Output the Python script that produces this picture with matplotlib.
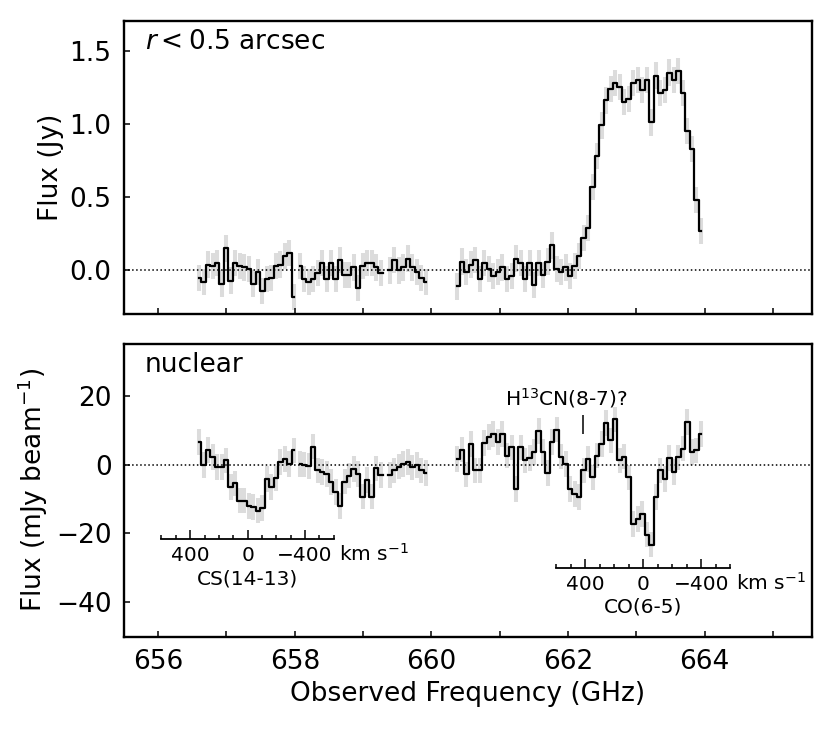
import numpy as np
import matplotlib
matplotlib.use("Agg")
import matplotlib.pyplot as plt
from matplotlib.ticker import MultipleLocator, FixedLocator

# ---------------- data ----------------
chan_width = 0.066                      # GHz
seg_starts = [656.60, 658.07, 660.38]   # first channel centre of each spectral segment (GHz)

nan = np.nan
top_flux_seg1 = [-0.05, -0.08, 0.04, 0.03, 0.05, -0.09, 0.15, -0.07, 0.05, 0.03, 0.02,
                 0.01, -0.09, -0.01, -0.14, -0.06, -0.05, 0.03, 0.04, 0.10, 0.12, -0.18]
top_flux_seg2 = [0.03, -0.06, -0.08, -0.06, -0.02, 0.05, -0.06, 0.05, -0.06, 0.07, -0.03,
                 -0.03, 0.02, -0.12, 0.03, 0.05, 0.05, 0.02, -0.02, nan, 0.00, 0.07, 0.00,
                 0.02, 0.08, 0.02, -0.01, -0.05, -0.08]
top_flux_seg3 = [-0.11, 0.06, -0.01, 0.04, 0.07, -0.06, 0.05, 0.01, -0.04, -0.01, 0.02,
                 -0.06, -0.04, 0.08, 0.05, -0.06, 0.05, -0.10, 0.05, -0.03, 0.06, 0.17,
                 0.01, -0.01, 0.02, -0.04, 0.03, 0.10, 0.22, 0.29, 0.57, 0.78, 0.99, 1.16,
                 1.24, 1.28, 1.25, 1.15, 1.17, 1.28, 1.30, 1.23, 1.30, 1.01, 1.33, 1.21,
                 1.23, 1.35, 1.30, 1.36, 1.21, 0.95, 0.83, 0.48, 0.27]
top_err = 0.09

nuc_flux_seg1 = [6.6, -0.2, 4.2, 2.2, -0.7, -0.7, 1.2, -6.6, -5.5, -10.5, -10.5, -12.0,
                 -12.3, -13.4, -12.6, -4.2, -6.6, -4.0, 0.7, 1.6, 0.2, 4.1]
nuc_flux_seg2 = [0.2, 0.0, -0.5, 5.2, -1.7, -2.2, -2.7, -5.1, -8.0, -12.0, -5.0, -3.2,
                 -1.3, -2.7, -9.3, -4.5, -9.3, -1.1, -3.0, nan, -3.0, -1.7, -0.6, 0.2,
                 0.7, -0.8, -0.1, -1.7, -2.5]
nuc_flux_seg3 = [1.6, 4.3, -2.9, 6.0, -1.7, -1.7, 6.2, 8.0, 8.9, 6.5, 8.9, 2.6, 5.0,
                 -7.1, 5.0, 1.2, 1.9, 3.6, 9.7, 3.6, -2.5, 6.5, 10.1, 2.3, 0.2, -7.1,
                 -8.5, -9.5, -1.7, 1.6, -3.7, 2.6, 6.0, 12.0, 7.0, 13.1, 1.2, 2.3, -3.7,
                 -17.3, -15.8, -14.4, -20.4, -23.3, -9.5, -1.7, -4.2, 1.9, -2.2, 2.1,
                 4.6, 12.3, 3.6, 4.1, 8.9]
nuc_err = 3.7

# line identifications
redshift = 0.04279
c_kms = 299792.458
rest_CS = 685.4355      # CS(14-13)
rest_CO = 691.4731      # CO(6-5)
rest_H13CN = 690.5521   # H13CN(8-7)
vel_half = 600          # km/s, extent of velocity bars
vel_major = [400, 0, -400]

# ---------------- style ----------------
plt.rcParams['font.family'] = ['DejaVu Sans']
plt.rcParams['mathtext.fontset'] = 'dejavusans'
FS = 19
FS_SMALL = 14.5

fig = plt.figure(figsize=(8.3, 7.32), dpi=100)
ax1 = fig.add_axes([0.1494, 0.5706, 0.8289, 0.4003])
ax2 = fig.add_axes([0.1494, 0.1302, 0.8289, 0.3999], sharex=ax1)


def draw_spectrum(ax, segs, err):
    for start, vals in zip(seg_starts, segs):
        v = np.array(vals, dtype=float)
        f = start + chan_width * np.arange(len(v))
        ax.errorbar(f, v, yerr=err, fmt='none', ecolor='#dcdcdc',
                    elinewidth=2.9, capsize=0, zorder=1)
        ax.step(f, v, where='mid', color='k', lw=1.6, zorder=3)
    ax.axhline(0, color='k', ls=':', lw=1.1, zorder=2)


draw_spectrum(ax1, [top_flux_seg1, top_flux_seg2, top_flux_seg3], top_err)
draw_spectrum(ax2, [nuc_flux_seg1, nuc_flux_seg2, nuc_flux_seg3], nuc_err)

for ax in (ax1, ax2):
    for s in ax.spines.values():
        s.set_linewidth(1.7)
    ax.xaxis.set_major_locator(MultipleLocator(2))
    ax.xaxis.set_minor_locator(MultipleLocator(1))
    ax.tick_params(axis='both', which='both', direction='in', length=4.5, width=1.1,
                   top=False, right=False, labelsize=FS, pad=9)

ax1.set_xlim(655.5, 665.57)
ax1.set_ylim(-0.3, 1.7)
ax1.yaxis.set_major_locator(MultipleLocator(0.5))
ax1.tick_params(labelbottom=False)
ax2.set_ylim(-50, 35)
ax2.yaxis.set_major_locator(MultipleLocator(20))

ax1.set_ylabel('Flux (Jy)', fontsize=FS)
ax2.set_ylabel('Flux (mJy beam$^{-1}$)', fontsize=FS)
ax2.set_xlabel('Observed Frequency (GHz)', fontsize=FS)

ax1.text(0.03, 0.93, '$r < 0.5$ arcsec', transform=ax1.transAxes,
         fontsize=FS, ha='left', va='center')
ax2.text(0.03, 0.928, 'nuclear', transform=ax2.transAxes,
         fontsize=FS, ha='left', va='center')


def velocity_axis(ax, f_rest, ybase, label):
    f0 = f_rest / (1 + redshift)
    half = f0 * vel_half / c_kms / (1 + redshift)
    ins = ax.inset_axes([f0 - half, ybase, 2 * half, 4], transform=ax.transData)
    ins.set_xlim(vel_half, -vel_half)
    ins.patch.set_visible(False)
    for s in ('top', 'left', 'right'):
        ins.spines[s].set_visible(False)
    ins.spines['bottom'].set_linewidth(1.3)
    ins.set_yticks([])
    ins.xaxis.set_major_locator(FixedLocator(vel_major))
    ins.xaxis.set_minor_locator(MultipleLocator(100))
    ins.tick_params(axis='x', which='major', direction='in', length=6.5, width=1.1,
                    labelsize=FS_SMALL, pad=5)
    ins.tick_params(axis='x', which='minor', direction='in', length=3, width=1.1)
    ins.set_xlabel(label, fontsize=FS_SMALL, labelpad=3)
    ins.annotate('km s$^{-1}$', xy=(1, 0), xycoords='axes fraction',
                 xytext=(4, -15.6), textcoords='offset points',
                 ha='left', va='baseline', fontsize=FS_SMALL)
    return ins


velocity_axis(ax2, rest_CS, -21.75, 'CS(14-13)')
velocity_axis(ax2, rest_CO, -30.0, 'CO(6-5)')

f_h13cn = rest_H13CN / (1 + redshift)
ax2.vlines(f_h13cn, 9.0, 14.4, color='k', lw=1.1)
ax2.text(f_h13cn - 0.24, 19.3, 'H$^{13}$CN(8-7)?', fontsize=FS_SMALL,
         ha='center', va='center')

fig.savefig('out.png', dpi=100)
